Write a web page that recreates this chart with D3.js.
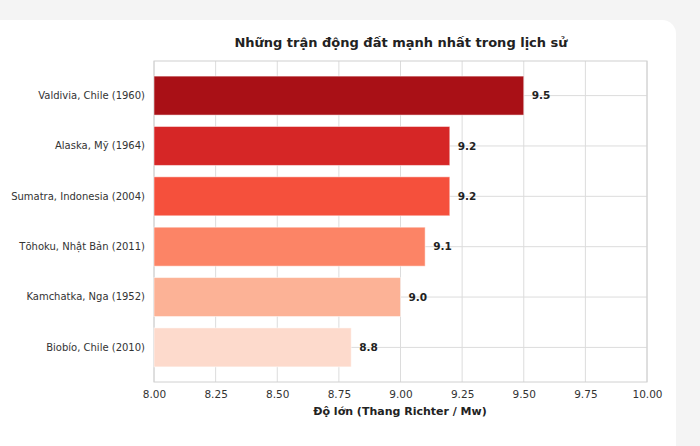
<!DOCTYPE html>
<html><head><meta charset="utf-8">
<script src="https://cdn.jsdelivr.net/npm/d3@7"></script>
<style>body{margin:0;background:#f4f4f4;font-family:"DejaVu Sans",sans-serif}</style>
</head><body>
<svg id="c" width="700" height="446"></svg>
<script>
const categories = ["Valdivia, Chile (1960)","Alaska, Mỹ (1964)","Sumatra, Indonesia (2004)","Tōhoku, Nhật Bản (2011)","Kamchatka, Nga (1952)","Biobío, Chile (2010)"];
const values = [9.5,9.2,9.2,9.1,9.0,8.8];
const colors = ["#a91016","#d62626","#f5503c","#fc8466","#fcb296","#fddacc"];
const ticks = [8.0,8.25,8.5,8.75,9.0,9.25,9.5,9.75,10.0];

const svg = d3.select("#c");
svg.append("rect").attr("x",-20).attr("y",20).attr("width",696).attr("height",440).attr("rx",14).attr("fill","#fff");
const L=154,R=647,T=61,B=382;
const x = d3.scaleLinear().domain([8,10]).range([L,R]);
const y = d3.scaleBand().domain(categories).range([T,B]).paddingInner(0.226).paddingOuter(0.3);

svg.append("g").selectAll("line").data(ticks).join("line")
  .attr("x1",d=>x(d)).attr("x2",d=>x(d)).attr("y1",T).attr("y2",B).attr("stroke","#dcdcdc");
svg.append("g").selectAll("line").data(categories).join("line")
  .attr("x1",L).attr("x2",R).attr("y1",d=>y(d)+y.bandwidth()/2).attr("y2",d=>y(d)+y.bandwidth()/2).attr("stroke","#dcdcdc");
svg.append("rect").attr("x",L).attr("y",T).attr("width",R-L).attr("height",B-T).attr("fill","none").attr("stroke","#d0d0d0");

svg.append("g").selectAll("rect").data(categories).join("rect")
  .attr("x",x(8)).attr("y",d=>y(d)).attr("height",y.bandwidth())
  .attr("width",(d,i)=>x(values[i])-x(8)).attr("fill",(d,i)=>colors[i])
  .attr("stroke","#ffffff").attr("stroke-opacity",0.5).attr("stroke-width",1);

svg.append("g").selectAll("text").data(categories).join("text")
  .attr("x",(d,i)=>x(values[i])+8).attr("y",d=>y(d)+y.bandwidth()/2).attr("dy","0.35em")
  .attr("font-size",10.5).attr("font-weight","bold").attr("fill","#222")
  .text((d,i)=>values[i].toFixed(1));

const xa = svg.append("g").attr("transform",`translate(0,${B})`)
  .call(d3.axisBottom(x).tickValues(ticks).tickFormat(d3.format(".2f")).tickSize(0).tickPadding(9));
xa.select(".domain").remove();
xa.selectAll("text").attr("font-size",10.5).attr("fill","#333").attr("font-family","DejaVu Sans");
const ya = svg.append("g").attr("transform",`translate(${L},0)`)
  .call(d3.axisLeft(y).tickSize(0).tickPadding(9));
ya.select(".domain").remove();
ya.selectAll("text").attr("font-size",10).attr("fill","#333").attr("font-family","DejaVu Sans");

svg.append("text").attr("x",401).attr("y",47).attr("text-anchor","middle")
  .attr("font-size",13).attr("font-weight","bold").attr("fill","#222").text("Những trận động đất mạnh nhất trong lịch sử");
svg.append("text").attr("x",400).attr("y",415).attr("text-anchor","middle")
  .attr("font-size",11).attr("font-weight","bold").attr("fill","#222").text("Độ lớn (Thang Richter / Mw)");
</script></body></html>
